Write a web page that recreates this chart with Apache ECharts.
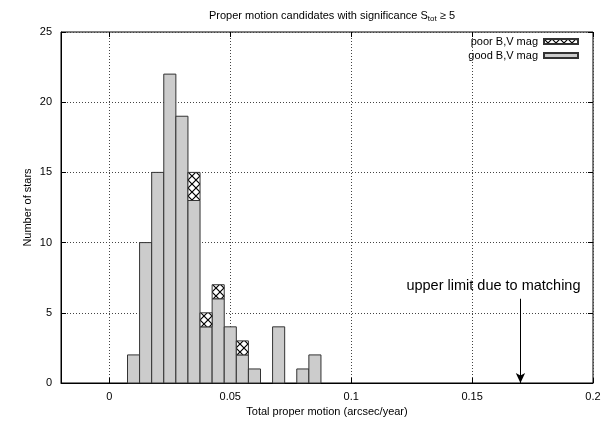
<!DOCTYPE html>
<html>
<head>
<meta charset="utf-8">
<script src="https://cdn.jsdelivr.net/npm/echarts@6/dist/echarts.min.js"></script>
<style>html,body{margin:0;padding:0;background:#fff;}#main{width:605px;height:425px;}</style>
</head>
<body>
<div id="main"></div>
<script>
// ---- data ----
var binCenters = [0.01, 0.015, 0.02, 0.025, 0.03, 0.035, 0.04, 0.045, 0.05, 0.055, 0.06, 0.065, 0.07, 0.075, 0.08, 0.085];
var goodCounts = [2, 10, 15, 22, 19, 13, 4, 6, 4, 2, 1, 0, 4, 0, 1, 2];
var poorCounts = [0, 0, 0, 0, 0, 2, 1, 1, 0, 1, 0, 0, 0, 0, 0, 0];
var binWidth = 0.005;
var xTicks = [0, 0.05, 0.1, 0.15, 0.2];
var xTickLabels = ['0', '0.05', '0.1', '0.15', '0.2'];
var yTicks = [0, 5, 10, 15, 20, 25];
var limitX = 0.17;
var limitArrowTop = 6;
var limitText = 'upper limit due to matching';

// hatch pattern
var pc = document.createElement('canvas');
pc.width = 8; pc.height = 8;
var g = pc.getContext('2d');
g.fillStyle = '#fff'; g.fillRect(0, 0, 8, 8);
g.strokeStyle = '#000'; g.lineWidth = 1.2;
g.beginPath(); g.moveTo(0, 0); g.lineTo(8, 8); g.moveTo(8, 0); g.lineTo(0, 8); g.stroke();
var hatch = {image: pc, repeat: 'repeat'};

var goodData = binCenters.map(function (c, i) { return [c, 0, goodCounts[i]]; });
var poorData = binCenters.map(function (c, i) { return [c, goodCounts[i], goodCounts[i] + poorCounts[i]]; });

function makeRender(fill) {
  return function (params, api) {
    var x = api.value(0), y0 = api.value(1), y1 = api.value(2);
    if (y1 <= y0) return null;
    var p0 = api.coord([x - binWidth / 2, y1]);
    var p1 = api.coord([x + binWidth / 2, y0]);
    return {
      type: 'rect',
      shape: {x: p0[0], y: p0[1], width: p1[0] - p0[0], height: p1[1] - p0[1]},
      style: {fill: fill, stroke: '#333', lineWidth: 1}
    };
  };
}

var font = 'Liberation Sans, Arial, sans-serif';
var gridLine = {show: true, lineStyle: {color: '#444', type: [1, 2], width: 1}};
var chart = echarts.init(document.getElementById('main'));
chart.setOption({
  animation: false,
  textStyle: {fontFamily: font},
  title: {
    text: '{a|Proper motion candidates with significance S}{s|tot}{a| ≥ 5}',
    left: 327, top: 4, textAlign: 'center',
    textStyle: {
      fontWeight: 'normal',
      rich: {
        a: {fontSize: 11, fontFamily: font, fontWeight: 'normal', color: '#000', lineHeight: 14},
        s: {fontSize: 8, fontFamily: font, fontWeight: 'normal', color: '#000', lineHeight: 14, padding: [6, 0, 0, 0]}
      }
    }
  },
  legend: {
    orient: 'vertical', right: 21, top: 30, align: 'right',
    itemWidth: 34, itemHeight: 5, itemGap: 1, icon: 'rect',
    textStyle: {fontSize: 11, fontFamily: font, color: '#000', lineHeight: 13, padding: [0, 1, 0, 0]},
    data: ['poor B,V mag', 'good B,V mag']
  },
  grid: {left: 61, right: 12, top: 32, bottom: 42, show: true, borderColor: '#000', borderWidth: 1},
  xAxis: [{
    type: 'value', min: -0.02, max: 0.2,
    name: 'Total proper motion (arcsec/year)', nameLocation: 'middle', nameGap: 21,
    nameTextStyle: {fontSize: 11, color: '#000', fontFamily: font},
    axisLine: {show: true, onZero: false, lineStyle: {color: '#000'}},
    axisTick: {show: true, inside: true, length: 5, customValues: xTicks, lineStyle: {color: '#000'}},
    axisLabel: {customValues: xTicks, fontSize: 11, color: '#000', margin: 8,
      formatter: function (v) { var i = xTicks.indexOf(v); return i >= 0 ? xTickLabels[i] : ''; }},
    splitLine: gridLine
  }, {
    type: 'value', min: -0.02, max: 0.2, position: 'top',
    axisLine: {show: false, onZero: false},
    axisTick: {show: true, inside: true, length: 5, customValues: xTicks, lineStyle: {color: '#000'}},
    axisLabel: {show: false}, splitLine: {show: false}
  }],
  yAxis: [{
    type: 'value', min: 0, max: 25, interval: 5,
    name: 'Number of stars', nameLocation: 'middle', nameGap: 28, nameMoveOverlap: false,
    nameTextStyle: {fontSize: 11, color: '#000', fontFamily: font},
    axisLine: {show: true, onZero: false, lineStyle: {color: '#000'}},
    axisTick: {show: true, inside: true, length: 5, lineStyle: {color: '#000'}},
    axisLabel: {fontSize: 11, color: '#000', margin: 9},
    splitLine: gridLine
  }, {
    type: 'value', min: 0, max: 25, interval: 5, position: 'right',
    axisLine: {show: false, onZero: false},
    axisTick: {show: true, inside: true, length: 5, lineStyle: {color: '#000'}},
    axisLabel: {show: false}, splitLine: {show: false}
  }],
  series: [{
    name: 'good B,V mag', type: 'custom', renderItem: makeRender('#cccccc'),
    itemStyle: {color: '#cccccc', borderColor: '#333', borderWidth: 1},
    encode: {x: 0, y: [1, 2]}, data: goodData, z: 3,
    markLine: {
      silent: true, symbol: ['none', 'arrow'], symbolSize: [7, 10],
      lineStyle: {color: '#000', width: 1, type: 'solid'},
      label: {show: true, position: 'start', formatter: limitText, fontSize: 14.5, color: '#000', fontFamily: font, distance: 5, offset: [-27, 0]},
      data: [[{coord: [limitX, limitArrowTop]}, {coord: [limitX, 0]}]]
    }
  }, {
    name: 'poor B,V mag', type: 'custom', renderItem: makeRender(hatch),
    itemStyle: {color: hatch, borderColor: '#333', borderWidth: 1},
    encode: {x: 0, y: [1, 2]}, data: poorData, z: 3
  }]
});
</script>
</body>
</html>
